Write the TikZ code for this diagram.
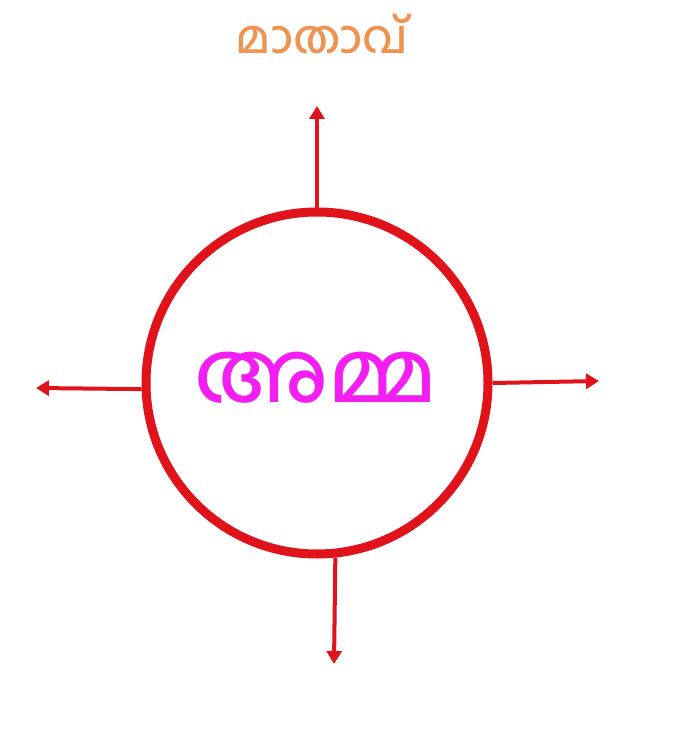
\documentclass[tikz,border=0pt]{standalone}
\usepackage{fontspec}
\newfontfamily\mlfont[Script=Malayalam]{Hind Kochi Medium}
\usetikzlibrary{arrows.meta}
\definecolor{ringred}{HTML}{E0121A}
\definecolor{titleorange}{HTML}{EE9350}
\definecolor{wordmagenta}{HTML}{F21EF2}
\tikzset{
  ring/.style={circle, draw=ringred, line width=9pt, minimum size=342pt, inner sep=0pt},
  ray/.style={draw=ringred, line width=4pt, -{Triangle[length=13pt,width=15pt]}},
}
\begin{document}
\begin{tikzpicture}[x=1pt,y=-1pt]
\useasboundingbox[fill=white] (0,0) rectangle (684,733);
\node[ring] (c) at (317,383) {};
\node[text=wordmagenta, font=\mlfont\fontsize{85}{95}\selectfont] (w) at (316,378) {അമ്മ};
\node[text=titleorange, font=\mlfont\fontsize{46}{52}\selectfont] (t) at (322,34) {മാതാവ്};
\coordinate (up) at (317,106);
\coordinate (lf) at (36,388);
\coordinate (rt) at (599,381);
\coordinate (dn) at (334,664);
\draw[ray] (c.north) -- (up);
\draw[ray] (c.182) -- (lf);
\draw[ray] (c.east) -- (rt);
\draw[ray] (c.-84.5) -- (dn);
\end{tikzpicture}
\end{document}
